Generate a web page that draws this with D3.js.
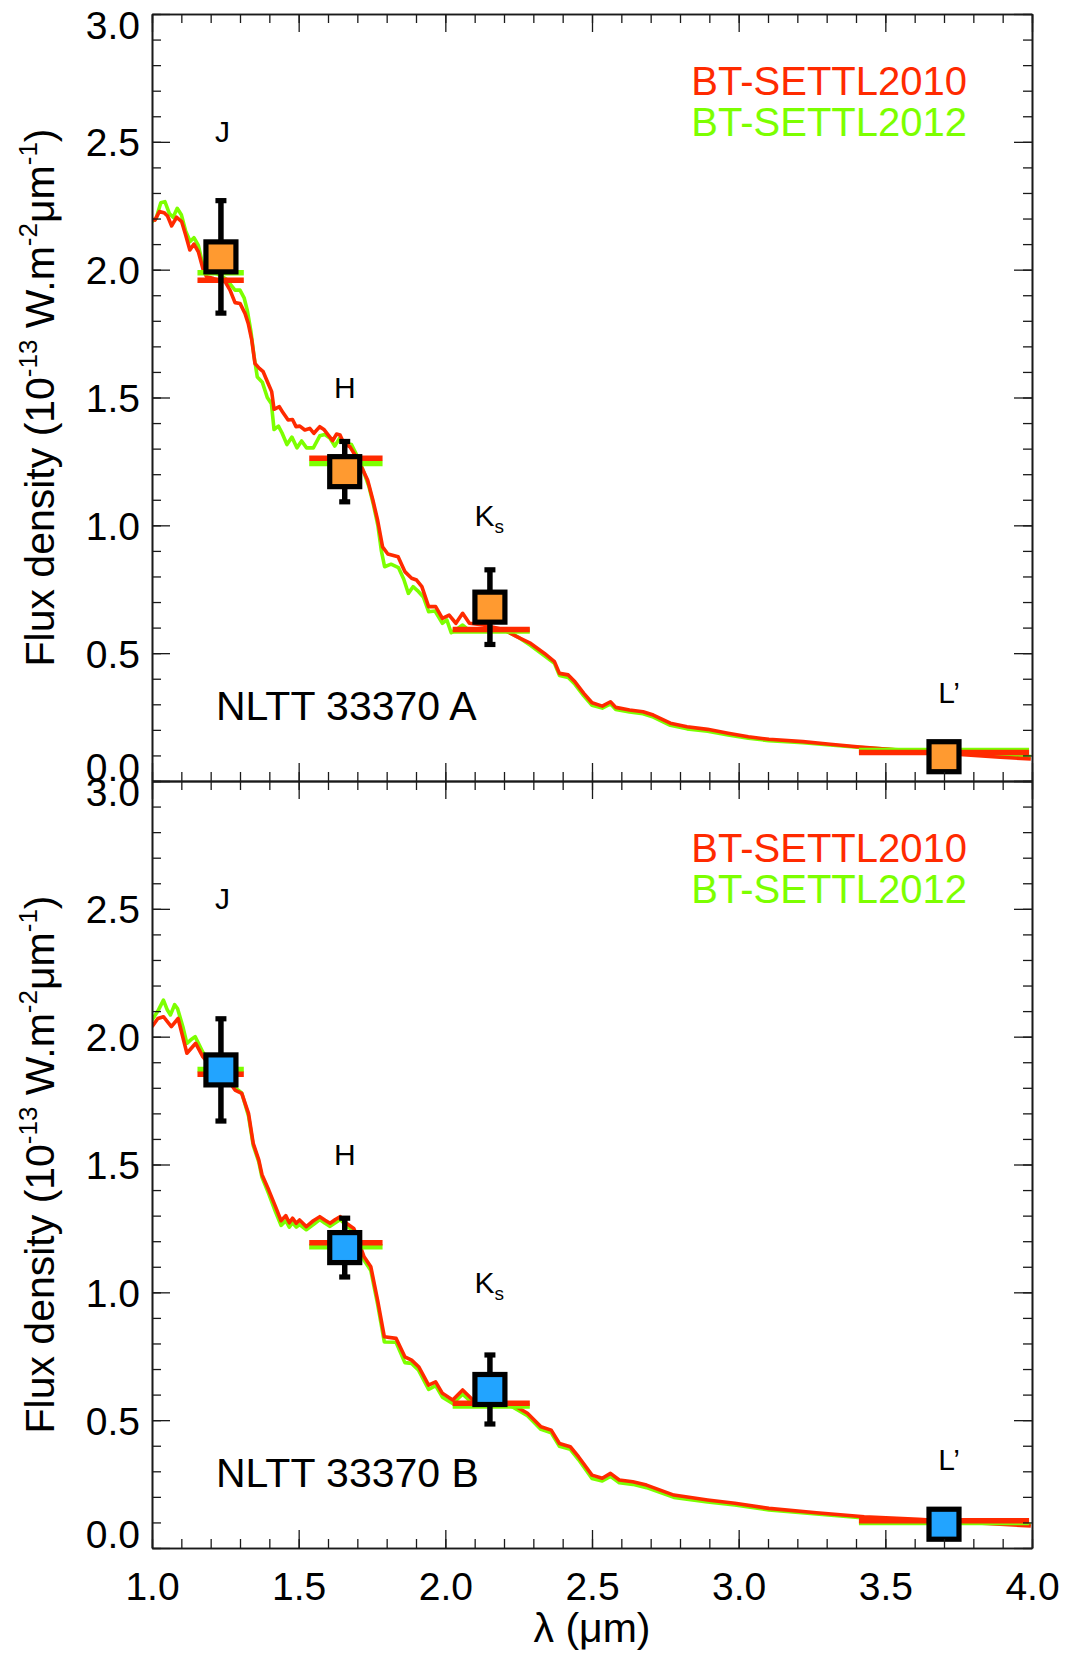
<!DOCTYPE html>
<html><head><meta charset="utf-8">
<script src="https://cdn.jsdelivr.net/npm/d3@7"></script>
<style>
body{margin:0;background:#fff}
svg{display:block}
text{font-family:"Liberation Sans",Arial,Helvetica,sans-serif}
</style>
</head><body>
<svg id="chart" width="1067" height="1654"></svg>
<script>
// ---------------- data ----------------
const bands       = ["J", "H", "K", "L’"];
const bandSub     = ["", "", "s", ""];
const bandCenter  = [1.235, 1.657, 2.152, 3.700];
const bandLo      = [1.155, 1.536, 2.025, 3.410];
const bandHi      = [1.313, 1.786, 2.288, 3.990];
const bandLabelX  = [1.240, 1.657, 2.150, 3.717];
const bandLabelY  = [2.54, 1.54, 1.04, 0.345];

const obsA        = [2.05, 1.21, 0.68, 0.095];
const errA        = [0.22, 0.118, 0.146, 0.0];
const synth2010A  = [1.959, 1.262, 0.593, 0.111];
const synth2012A  = [1.988, 1.242, 0.587, 0.119];

const obsB        = [1.87, 1.175, 0.62, 0.093];
const errB        = [0.20, 0.115, 0.135, 0.0];
const synth2010B  = [1.853, 1.194, 0.566, 0.107];
const synth2012B  = [1.872, 1.178, 0.555, 0.100];

const seriesNames = ["BT-SETTL2010", "BT-SETTL2012"];
const targetNames = ["NLTT 33370 A", "NLTT 33370 B"];

const xTickLabels = ["1.0","1.5","2.0","2.5","3.0","3.5","4.0"];
const yTickLabels = ["0.0","0.5","1.0","1.5","2.0","2.5","3.0"];

// spectra: [wavelength (um), flux]
const specA2010 = [[1.000,2.197],[1.010,2.194],[1.025,2.227],[1.041,2.223],[1.053,2.210],[1.067,2.171],[1.084,2.205],[1.101,2.188],[1.115,2.135],[1.129,2.077],[1.143,2.100],[1.158,2.070],[1.175,1.998],[1.186,1.972],[1.210,1.965],[1.230,1.958],[1.249,1.953],[1.266,1.920],[1.283,1.871],[1.300,1.868],[1.317,1.829],[1.328,1.790],[1.340,1.725],[1.351,1.633],[1.366,1.614],[1.379,1.601],[1.396,1.555],[1.408,1.523],[1.416,1.454],[1.434,1.464],[1.447,1.440],[1.464,1.412],[1.479,1.414],[1.491,1.386],[1.504,1.388],[1.521,1.373],[1.538,1.379],[1.552,1.360],[1.572,1.386],[1.586,1.375],[1.601,1.353],[1.616,1.331],[1.629,1.357],[1.641,1.353],[1.654,1.321],[1.675,1.307],[1.692,1.275],[1.711,1.236],[1.735,1.177],[1.753,1.099],[1.769,1.021],[1.786,0.916],[1.804,0.888],[1.839,0.877],[1.862,0.819],[1.885,0.793],[1.902,0.786],[1.920,0.760],[1.943,0.682],[1.967,0.682],[1.990,0.636],[2.013,0.649],[2.036,0.617],[2.059,0.656],[2.082,0.617],[2.129,0.610],[2.198,0.593],[2.245,0.564],[2.291,0.538],[2.338,0.499],[2.372,0.467],[2.389,0.421],[2.419,0.415],[2.442,0.388],[2.472,0.343],[2.500,0.306],[2.535,0.293],[2.563,0.310],[2.581,0.288],[2.628,0.278],[2.674,0.271],[2.709,0.258],[2.767,0.226],[2.824,0.212],[2.894,0.202],[2.964,0.187],[3.033,0.173],[3.103,0.163],[3.219,0.154],[3.312,0.144],[3.404,0.134],[3.544,0.121],[3.729,0.106],[3.892,0.093],[3.996,0.086]];

const specA2012 = [[1.000,2.188],[1.014,2.200],[1.030,2.262],[1.044,2.266],[1.059,2.220],[1.072,2.205],[1.086,2.240],[1.100,2.215],[1.115,2.150],[1.130,2.110],[1.143,2.125],[1.158,2.095],[1.175,2.010],[1.190,1.990],[1.220,1.985],[1.253,1.963],[1.283,1.920],[1.300,1.920],[1.314,1.890],[1.325,1.840],[1.337,1.760],[1.348,1.660],[1.359,1.580],[1.376,1.560],[1.393,1.500],[1.407,1.476],[1.416,1.375],[1.431,1.388],[1.443,1.362],[1.460,1.316],[1.477,1.345],[1.494,1.303],[1.510,1.330],[1.527,1.303],[1.550,1.303],[1.572,1.350],[1.589,1.355],[1.606,1.342],[1.623,1.310],[1.640,1.342],[1.657,1.322],[1.680,1.316],[1.697,1.277],[1.720,1.215],[1.740,1.150],[1.755,1.080],[1.770,1.000],[1.782,0.900],[1.793,0.838],[1.815,0.848],[1.840,0.835],[1.858,0.790],[1.874,0.734],[1.890,0.760],[1.905,0.745],[1.925,0.720],[1.943,0.662],[1.965,0.665],[1.990,0.617],[2.005,0.630],[2.020,0.580],[2.040,0.595],[2.059,0.610],[2.080,0.590],[2.105,0.593],[2.150,0.595],[2.200,0.590],[2.245,0.565],[2.291,0.530],[2.338,0.490],[2.372,0.460],[2.389,0.413],[2.419,0.405],[2.442,0.378],[2.472,0.333],[2.500,0.296],[2.535,0.285],[2.563,0.302],[2.581,0.280],[2.628,0.270],[2.674,0.263],[2.709,0.250],[2.767,0.218],[2.824,0.204],[2.894,0.195],[2.964,0.180],[3.033,0.167],[3.103,0.158],[3.219,0.150],[3.312,0.141],[3.404,0.132],[3.544,0.122],[3.729,0.108],[3.892,0.100],[3.996,0.096]];

const specB2010 = [[1.000,2.039],[1.020,2.071],[1.039,2.078],[1.066,2.039],[1.089,2.071],[1.119,1.935],[1.149,1.974],[1.173,1.922],[1.200,1.885],[1.230,1.855],[1.260,1.830],[1.283,1.791],[1.306,1.778],[1.329,1.700],[1.345,1.583],[1.364,1.518],[1.375,1.460],[1.398,1.400],[1.421,1.335],[1.440,1.280],[1.456,1.300],[1.468,1.272],[1.479,1.290],[1.492,1.270],[1.503,1.283],[1.526,1.257],[1.550,1.280],[1.572,1.296],[1.590,1.282],[1.607,1.270],[1.625,1.285],[1.642,1.296],[1.665,1.268],[1.688,1.250],[1.723,1.139],[1.746,1.100],[1.769,0.970],[1.792,0.826],[1.832,0.820],[1.862,0.748],[1.885,0.735],[1.909,0.709],[1.943,0.637],[1.967,0.650],[1.990,0.605],[2.025,0.579],[2.059,0.618],[2.094,0.579],[2.150,0.575],[2.222,0.566],[2.280,0.527],[2.326,0.474],[2.361,0.461],[2.389,0.409],[2.426,0.396],[2.454,0.357],[2.500,0.285],[2.535,0.273],[2.563,0.292],[2.593,0.266],[2.639,0.259],[2.686,0.246],[2.779,0.207],[2.894,0.188],[2.987,0.175],[3.103,0.155],[3.265,0.138],[3.428,0.122],[3.613,0.112],[3.799,0.099],[3.996,0.086]];

const specB2012 = [[1.000,2.065],[1.020,2.100],[1.039,2.143],[1.052,2.105],[1.063,2.085],[1.077,2.125],[1.087,2.110],[1.105,2.040],[1.119,1.974],[1.135,1.990],[1.147,2.000],[1.173,1.940],[1.200,1.895],[1.230,1.865],[1.260,1.835],[1.283,1.800],[1.306,1.780],[1.329,1.690],[1.345,1.575],[1.364,1.510],[1.375,1.450],[1.398,1.385],[1.421,1.315],[1.440,1.262],[1.456,1.280],[1.468,1.255],[1.479,1.272],[1.492,1.255],[1.503,1.265],[1.526,1.245],[1.550,1.265],[1.572,1.285],[1.590,1.270],[1.607,1.258],[1.625,1.272],[1.642,1.285],[1.665,1.258],[1.688,1.240],[1.723,1.125],[1.746,1.085],[1.769,0.955],[1.792,0.806],[1.832,0.805],[1.862,0.725],[1.885,0.722],[1.909,0.695],[1.943,0.620],[1.967,0.635],[1.990,0.590],[2.025,0.565],[2.059,0.602],[2.094,0.565],[2.150,0.565],[2.222,0.557],[2.280,0.517],[2.326,0.464],[2.361,0.451],[2.389,0.398],[2.426,0.386],[2.454,0.346],[2.500,0.272],[2.535,0.262],[2.563,0.280],[2.593,0.255],[2.639,0.249],[2.686,0.236],[2.779,0.198],[2.894,0.180],[2.987,0.168],[3.103,0.149],[3.265,0.133],[3.428,0.118],[3.613,0.109],[3.799,0.099],[3.996,0.092]];

// ---------------- layout / style ----------------
const RED = "#ff2a00", GREEN = "#7cff00", AXIS = "#1a1a1a";
const left = 152, right = 1032;
const panelTops = [14, 781], panelH = 767;
const FONT = 39, BIG = 41, LEG = 40;

const svg = d3.select("#chart");
const x = d3.scaleLinear().domain([1, 4]).range([left, right]);
const xMajor = d3.range(0, 7).map(i => 1 + i * 0.5);
const xMinor = d3.range(10, 41).map(i => i / 10);
const yMajor = d3.range(0, 7).map(i => i * 0.5);
const yMinor = d3.range(0, 31).map(i => i / 10);

const panels = [
  {top: panelTops[0], obs: obsA, err: errA, s10: synth2010A, s12: synth2012A, sp10: specA2010, sp12: specA2012, fill: "#ff9a30", name: targetNames[0], last: false},
  {top: panelTops[1], obs: obsB, err: errB, s10: synth2010B, s12: synth2012B, sp10: specB2010, sp12: specB2012, fill: "#22a4ff", name: targetNames[1], last: true}
];

function styleAxis(g) {
  g.attr("font-size", null).attr("font-family", null);
  g.select(".domain").attr("stroke", AXIS).attr("stroke-width", 1.6);
  g.selectAll(".tick line").attr("stroke", AXIS).attr("stroke-width", 1.3);
}

panels.forEach((p, pi) => {
  const y = d3.scaleLinear().domain([0, 3]).range([p.top + panelH, p.top]);
  const g = svg.append("g");

  const clipId = "clip" + pi;
  svg.append("clipPath").attr("id", clipId).append("rect")
    .attr("x", left).attr("y", p.top).attr("width", right - left).attr("height", panelH);

  const line = d3.line().x(d => x(d[0])).y(d => y(d[1]));
  const plot = g.append("g").attr("clip-path", `url(#${clipId})`);
  plot.append("path").datum(p.sp12).attr("d", line).attr("fill", "none")
    .attr("stroke", GREEN).attr("stroke-width", 3.6).attr("stroke-linejoin", "round");
  plot.append("path").datum(p.sp10).attr("d", line).attr("fill", "none")
    .attr("stroke", RED).attr("stroke-width", 3.6).attr("stroke-linejoin", "round");

  // synthetic photometry bars
  bands.forEach((b, i) => {
    plot.append("line").attr("x1", x(bandLo[i])).attr("x2", x(bandHi[i]))
      .attr("y1", y(p.s12[i])).attr("y2", y(p.s12[i]))
      .attr("stroke", GREEN).attr("stroke-width", 5.5);
  });
  bands.forEach((b, i) => {
    plot.append("line").attr("x1", x(bandLo[i])).attr("x2", x(bandHi[i]))
      .attr("y1", y(p.s10[i])).attr("y2", y(p.s10[i]))
      .attr("stroke", RED).attr("stroke-width", 5.5);
  });

  // error bars
  bands.forEach((b, i) => {
    if (p.err[i] <= 0) return;
    const cx = x(bandCenter[i]);
    const y1 = y(p.obs[i] + p.err[i]), y2 = y(p.obs[i] - p.err[i]);
    g.append("line").attr("x1", cx).attr("x2", cx).attr("y1", y1).attr("y2", y2)
      .attr("stroke", "#000").attr("stroke-width", 5.5);
    [y1, y2].forEach(yy => g.append("rect").attr("x", cx - 5.5).attr("y", yy - 2.6)
      .attr("width", 11).attr("height", 5.2).attr("fill", "#000"));
  });

  // squares
  bands.forEach((b, i) => {
    const cx = x(bandCenter[i]), cy = y(p.obs[i]);
    g.append("rect").attr("x", cx - 15).attr("y", cy - 15).attr("width", 30).attr("height", 30)
      .attr("fill", p.fill).attr("stroke", "#000").attr("stroke-width", 5.2);
  });

  // axes
  const axL = g.append("g").attr("transform", `translate(${left},0)`)
    .call(d3.axisLeft(y).tickValues(yMajor).tickSizeInner(-18).tickSizeOuter(0).tickPadding(12)
      .tickFormat((d, i) => yTickLabels[i]));
  styleAxis(axL);
  axL.selectAll(".tick text").attr("fill", "#000").attr("font-size", FONT).attr("dy", null)
    .attr("y", (d) => d === 3 ? 24 : (d === 0 ? -1 : 14));
  const axLm = g.append("g").attr("transform", `translate(${left},0)`)
    .call(d3.axisLeft(y).tickValues(yMinor).tickSizeInner(-9).tickSizeOuter(0).tickFormat(""));
  styleAxis(axLm);

  const axR = g.append("g").attr("transform", `translate(${right},0)`)
    .call(d3.axisRight(y).tickValues(yMajor).tickSizeInner(-18).tickSizeOuter(0).tickFormat(""));
  styleAxis(axR);
  const axRm = g.append("g").attr("transform", `translate(${right},0)`)
    .call(d3.axisRight(y).tickValues(yMinor).tickSizeInner(-9).tickSizeOuter(0).tickFormat(""));
  styleAxis(axRm);

  const axT = g.append("g").attr("transform", `translate(0,${p.top})`)
    .call(d3.axisTop(x).tickValues(xMajor).tickSizeInner(-18).tickSizeOuter(0).tickFormat(""));
  styleAxis(axT);
  const axTm = g.append("g").attr("transform", `translate(0,${p.top})`)
    .call(d3.axisTop(x).tickValues(xMinor).tickSizeInner(-9).tickSizeOuter(0).tickFormat(""));
  styleAxis(axTm);

  const axB = g.append("g").attr("transform", `translate(0,${p.top + panelH})`)
    .call(d3.axisBottom(x).tickValues(xMajor).tickSizeInner(-18).tickSizeOuter(0).tickPadding(24)
      .tickFormat((d, i) => p.last ? xTickLabels[i] : ""));
  styleAxis(axB);
  axB.selectAll(".tick text").attr("fill", "#000").attr("font-size", FONT).attr("dy", null).attr("y", 52);
  const axBm = g.append("g").attr("transform", `translate(0,${p.top + panelH})`)
    .call(d3.axisBottom(x).tickValues(xMinor).tickSizeInner(-9).tickSizeOuter(0).tickFormat(""));
  styleAxis(axBm);

  // band labels
  bands.forEach((b, i) => {
    const t = g.append("text").attr("x", x(bandLabelX[i])).attr("y", y(bandLabelY[i]) + 10.7)
      .attr("text-anchor", "middle").attr("font-size", 30).attr("fill", "#000");
    t.append("tspan").text(b);
    if (bandSub[i]) t.append("tspan").attr("font-size", 19).attr("dy", 7).text(bandSub[i]);
  });

  // legend
  g.append("text").attr("x", 967).attr("y", p.top + 81).attr("text-anchor", "end")
    .attr("font-size", LEG).attr("fill", RED).text(seriesNames[0]);
  g.append("text").attr("x", 967).attr("y", p.top + 122).attr("text-anchor", "end")
    .attr("font-size", LEG).attr("fill", GREEN).text(seriesNames[1]);

  // target name
  g.append("text").attr("x", 216).attr("y", p.top + 706).attr("font-size", BIG)
    .attr("fill", "#000").text(p.name);

  // y label
  const yl = g.append("text").attr("transform", `translate(54,${p.top + panelH / 2}) rotate(-90)`)
    .attr("text-anchor", "middle").attr("font-size", BIG).attr("fill", "#000");
  yl.append("tspan").text("Flux density (10");
  yl.append("tspan").attr("font-size", 26).attr("dy", -17).text("-13");
  yl.append("tspan").attr("dy", 17).text(" W.m");
  yl.append("tspan").attr("font-size", 26).attr("dy", -17).text("-2");
  yl.append("tspan").attr("dy", 17).text("μm");
  yl.append("tspan").attr("font-size", 26).attr("dy", -17).text("-1");
  yl.append("tspan").attr("dy", 17).text(")");
});

// x label
svg.append("text").attr("x", (left + right) / 2).attr("y", 1642).attr("text-anchor", "middle")
  .attr("font-size", BIG).attr("fill", "#000").text("λ (μm)");
</script>
</body></html>
